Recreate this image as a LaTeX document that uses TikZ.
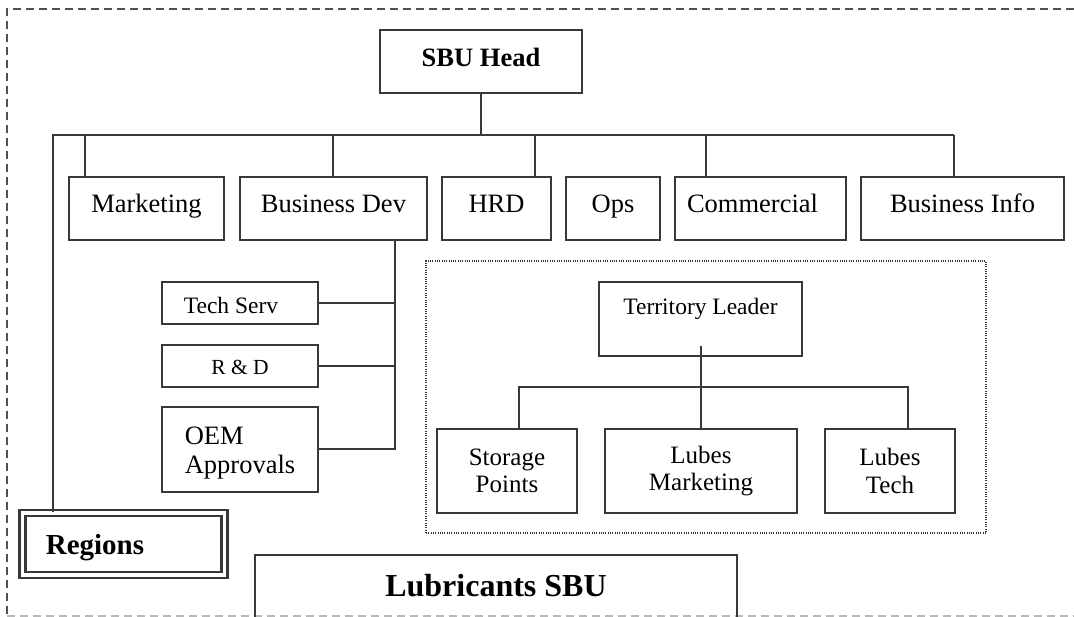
\documentclass[tikz,border=0pt]{standalone}
\usepackage{fontspec}
\setmainfont{Liberation Serif}
\definecolor{linec}{HTML}{383838}
\definecolor{framec}{HTML}{505050}
\begin{document}
\begin{tikzpicture}[x=1pt,y=-1pt,
  box/.style={draw=linec, line width=2pt, inner sep=0pt, text=black},
  conn/.style={draw=linec, line width=2pt},
  toprow/.style={box, minimum height=63pt, text height=18pt, text depth=10pt,
    font=\fontsize{26.5}{29}\selectfont},
  lube/.style={box, minimum height=84pt, align=center,
    font=\fontsize{25}{27.5}\selectfont},
  outerframe/.style={draw=framec, line width=1.3pt, dash pattern=on 8pt off 5pt}]

% page
\fill[white] (0,0) rectangle (1074,617);
\useasboundingbox (0,0) rectangle (1074,617);

% outer dashed frame (open on the right)
\draw[outerframe] (1074,9) -- (7,9) -- (7,617);
\draw[outerframe, draw=gray!55] (7,616) -- (1074,616);

% head
\node[box, minimum width=202pt, minimum height=63pt, text height=18pt, text depth=7.6pt,
  font=\fontsize{26.5}{29}\selectfont\bfseries] (head) at (481,61.5) {SBU Head};

% first level
\node[toprow, minimum width=155pt] (mkt) at (146.5,208.5) {Marketing};
\node[toprow, minimum width=187pt] (bdev) at (333.5,208.5) {Business Dev};
\node[toprow, minimum width=109pt] (hrd) at (496.5,208.5) {HRD};
\node[toprow, minimum width=94pt] (ops) at (613,208.5) {Ops};
\node[toprow, minimum width=171pt] (com) at (760.5,208.5) {Commercial\hspace*{16pt}};
\node[toprow, minimum width=203pt] (binfo) at (962.5,208.5) {Business Info};

% business development units
\node[box, minimum width=156pt, minimum height=42pt, text height=24pt, text depth=2.8pt,
  font=\fontsize{23.5}{26}\selectfont] (tech) at (240,303) {Tech Serv\hspace*{18pt}};
\node[box, minimum width=156pt, minimum height=42pt, text height=22pt, text depth=4pt,
  font=\fontsize{21.5}{24}\selectfont] (rnd) at (240,366) {R \& D};
\node[box, minimum width=156pt, minimum height=85pt, align=left,
  font=\fontsize{26.5}{29}\selectfont] (oem) at (240,449.5) {\rule{0pt}{25pt}OEM\\Approvals};

% regions
\node[box, line width=2.5pt, double, double distance=3.5pt, minimum width=202pt,
  minimum height=62pt, text height=20pt, text depth=0pt,
  font=\fontsize{29}{32}\selectfont\bfseries] (reg) at (123.5,544) {Regions\hspace*{57pt}};

% territory group
\node[draw=linec, line width=1.1pt, dash pattern=on 1pt off 1.3pt,
  minimum width=560pt, minimum height=272pt] (grp) at (706,397) {};
\node[box, minimum width=203pt, minimum height=74pt, text height=16pt, text depth=24pt,
  font=\fontsize{23.5}{26}\selectfont] (tl) at (700.5,319) {Territory Leader};
\node[lube, minimum width=140pt] (sp) at (507,471) {Storage\\Points};
\node[lube, minimum width=192pt] (lm) at (701,471) {Lubes\\Marketing};
\node[lube, minimum width=130pt] (lt) at (890,471) {Lubes\\Tech};

% title block, open at the bottom edge
\node[inner sep=0pt, minimum width=482pt, minimum height=62pt, text height=22pt, text depth=2pt,
  font=\fontsize{32}{35}\selectfont\bfseries] (title) at (496,586) {Lubricants SBU};
\draw[conn] (title.south west) -- (title.north west) -- (title.north east) -- (title.south east);

% top-level connectors
\coordinate (busL) at (53,135);
\coordinate (busR) at (954,135);
\draw[conn] (head.south) -- (head.south |- busL);
\draw[conn] (busR) -- (busL) -- (reg.north -| busL);
\draw[conn] ([xshift=-61.5pt]mkt.north) -- ([xshift=-61.5pt]mkt.north |- busL);
\draw[conn] ([xshift=-0.5pt]bdev.north) -- ([xshift=-0.5pt]bdev.north |- busL);
\draw[conn] ([xshift=38.5pt]hrd.north) -- ([xshift=38.5pt]hrd.north |- busL);
\draw[conn] ([xshift=-54.5pt]com.north) -- ([xshift=-54.5pt]com.north |- busL);
\draw[conn] (binfo.north -| busR) -- (busR);

% business development connectors
\coordinate (bdv) at ([xshift=61.5pt]bdev.south);
\draw[conn] (bdv) -- (bdv |- oem.east) -- (oem.east);
\draw[conn] (tech.east) -- (tech.east -| bdv);
\draw[conn] (rnd.east) -- (rnd.east -| bdv);

% territory connectors
\coordinate (tj) at (701,387);
\draw[conn] ([yshift=11pt]tl.south -| lm.north) -- (lm.north);
\draw[conn] ([xshift=12pt]sp.north) |- (tj) -| ([xshift=18pt]lt.north);
\end{tikzpicture}
\end{document}
